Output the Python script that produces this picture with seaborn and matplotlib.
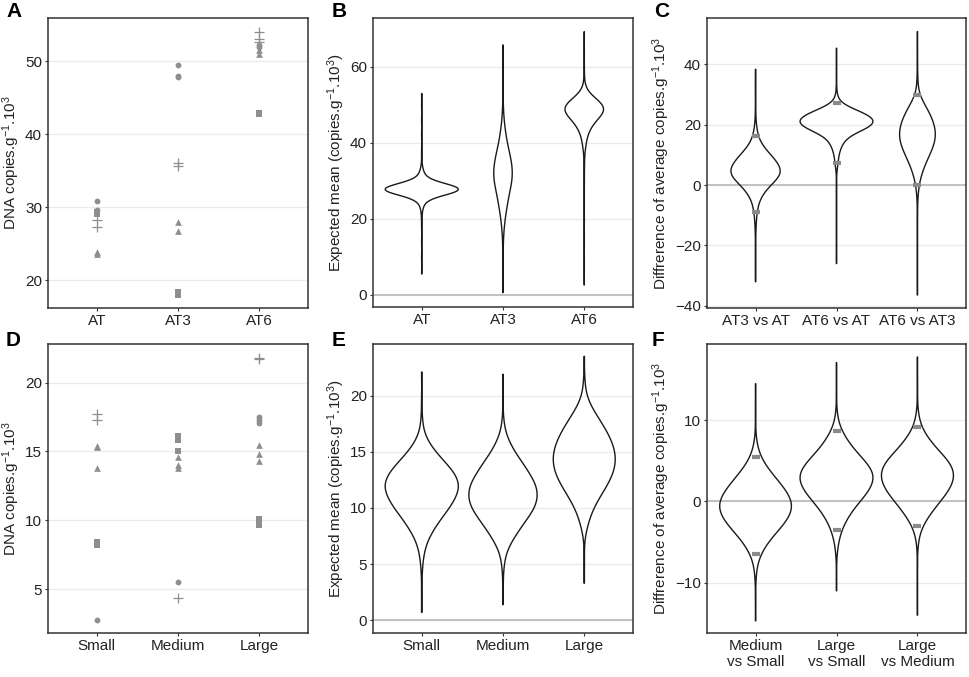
import numpy as np
import pandas as pd
import matplotlib
matplotlib.use("Agg")
import matplotlib.pyplot as plt
import seaborn as sns

# A: raw DNA copies per treatment, one list per point shape
a_cats = ["AT", "AT3", "AT6"]
a_circle_grp = ["AT", "AT", "AT3", "AT3", "AT3", "AT6", "AT6"]
a_circle_val = [30.8, 29.6, 49.4, 48.0, 47.8, 52.2, 51.9]
a_square_grp = ["AT", "AT", "AT3", "AT3", "AT6", "AT6"]
a_square_val = [29.4, 29.1, 18.4, 18.0, 42.9, 42.7]
a_tri_grp = ["AT", "AT", "AT3", "AT3", "AT6", "AT6"]
a_tri_val = [23.8, 23.6, 28.0, 26.8, 51.5, 51.0]
a_plus_grp = ["AT", "AT", "AT3", "AT3", "AT6", "AT6", "AT6"]
a_plus_val = [28.2, 27.3, 36.0, 35.7, 54.0, 53.0, 52.6]

# D: raw DNA copies per size class
d_cats = ["Small", "Medium", "Large"]
d_circle_grp = ["Small", "Medium", "Large", "Large", "Large"]
d_circle_val = [2.8, 5.5, 17.5, 17.3, 17.1]
d_square_grp = ["Small", "Small", "Medium", "Medium", "Medium", "Large", "Large", "Large"]
d_square_val = [8.4, 8.2, 16.1, 15.8, 15.0, 10.1, 9.9, 9.7]
d_tri_grp = ["Small", "Small", "Small", "Medium", "Medium", "Medium", "Large", "Large", "Large"]
d_tri_val = [15.4, 15.3, 13.8, 14.6, 14.0, 13.8, 15.5, 14.8, 14.3]
d_plus_grp = ["Small", "Small", "Medium", "Large", "Large"]
d_plus_val = [17.7, 17.3, 4.4, 21.8, 21.7]

# violins: value levels and how wide the violin is there
b_cats = ["AT", "AT3", "AT6"]
b_at_y = [5.5, 10, 14, 18, 20, 21, 22, 23, 24, 25, 26, 27, 28, 29, 30, 31, 32, 33, 34, 36, 38, 42, 46, 50, 53]
b_at_n = [1, 1, 1, 1, 1, 1, 2, 4, 8, 18, 48, 100, 120, 78, 33, 13, 7, 4, 2, 1, 1, 1, 1, 1, 1]
b_at3_y = [0.6, 4, 8, 11, 14, 16, 18, 20, 22, 24, 26, 28, 30, 32, 34, 36, 38, 40, 42, 44, 46, 48, 51, 55, 60, 65.8]
b_at3_n = [1, 1, 1, 1, 1, 2, 4, 6, 10, 14, 17, 23, 28, 30, 28, 24, 18, 13, 9, 6, 3, 2, 1, 1, 1, 1]
b_at6_y = [2.6, 8, 14, 20, 25, 29, 32, 34, 36, 38, 39, 40, 41, 42, 43, 44, 45, 46, 47, 48, 49, 50, 51, 52, 53, 54, 55, 57, 60, 64, 69.3]
b_at6_n = [1, 1, 1, 1, 1, 1, 1, 1, 2, 3, 4, 5, 7, 9, 13, 18, 24, 33, 45, 55, 60, 55, 42, 26, 13, 6, 3, 2, 1, 1, 1]

c_cats = ["AT3 vs AT", "AT6 vs AT", "AT6 vs AT3"]
c_1_y = [-32, -28, -24, -20, -16, -14, -12, -10, -8, -6, -4, -2, 0, 2, 4, 6, 8, 10, 12, 14, 16, 18, 20, 22, 25, 30, 34, 38.3]
c_1_n = [1, 1, 1, 1, 1, 1, 2, 3, 5, 8, 14, 24, 38, 55, 67, 62, 52, 38, 24, 13, 7, 4, 2, 1, 1, 1, 1, 1]
c_2_y = [-26, -20, -14, -8, -4, 0, 3, 5, 6, 7, 8, 9, 10, 11, 12, 13, 14, 15, 16, 17, 18, 19, 20, 21, 22, 23, 24, 25, 26, 27, 28, 29, 30, 32, 35, 38, 41, 45.3]
c_2_n = [1, 1, 1, 1, 1, 1, 1, 2, 3, 4, 5, 6, 7, 9, 12, 15, 20, 25, 35, 50, 70, 92, 106, 112, 106, 95, 75, 52, 32, 14, 7, 4, 3, 2, 1, 1, 1, 1]
c_3_y = [-36.4, -30, -24, -18, -12, -8, -4, -2, 0, 2, 4, 6, 8, 10, 12, 14, 16, 18, 20, 22, 24, 26, 28, 30, 32, 35, 38, 42, 46, 50.8]
c_3_n = [1, 1, 1, 1, 1, 1, 2, 3, 5, 9, 15, 21, 30, 39, 48, 55, 59, 58, 54, 47, 38, 27, 15, 6, 3, 2, 1, 1, 1, 1]
c_ci_grp = ["AT3 vs AT", "AT3 vs AT", "AT6 vs AT", "AT6 vs AT", "AT6 vs AT3", "AT6 vs AT3"]
c_ci_val = [16.2, -8.9, 27.3, 7.2, 29.8, 0.0]

e_cats = ["Small", "Medium", "Large"]
e_small_y = [0.7, 2.5, 4, 5, 6, 7, 8, 9, 10, 11, 12, 13, 14, 15, 16, 17, 18, 19.5, 22.1]
e_small_n = [1, 1, 1, 3, 7, 16, 33, 55, 80, 100, 110, 98, 70, 40, 17, 5, 2, 1, 1]
e_medium_y = [1.4, 3, 4, 5, 6, 7, 8, 9, 10, 11, 12, 13, 14, 15, 16, 17, 18, 20, 21.9]
e_medium_n = [1, 1, 1, 4, 10, 27, 50, 75, 100, 110, 105, 85, 62, 37, 18, 6, 2, 1, 1]
e_large_y = [3.3, 5, 6.5, 8, 9, 10, 11, 12, 13, 14, 15, 16, 17, 18, 19, 20, 21, 22, 23.5]
e_large_n = [1, 1, 1, 8, 18, 33, 55, 80, 100, 110, 108, 95, 75, 50, 25, 8, 3, 1, 1]

f_cats = ["Medium\nvs Small", "Large\nvs Small", "Large\nvs Medium"]
f_1_y = [-14.7, -12, -10, -9, -8, -7, -6, -5, -4, -3, -2, -1, 0, 1, 2, 3, 4, 5, 6, 7, 8, 10, 12, 14.5]
f_1_n = [1, 1, 1, 2, 5, 11, 22, 38, 58, 80, 98, 109, 108, 96, 78, 58, 38, 22, 11, 5, 2, 1, 1, 1]
f_2_y = [-11, -9, -7, -6, -5, -4, -3, -2, -1, 0, 1, 2, 3, 4, 5, 6, 7, 8, 9, 10, 11, 13, 15, 17.1]
f_2_n = [1, 1, 1, 3, 6, 12, 20, 33, 48, 68, 88, 103, 110, 102, 82, 60, 40, 25, 12, 5, 2, 1, 1, 1]
f_3_y = [-14, -11, -8, -6, -5, -4, -3, -2, -1, 0, 1, 2, 3, 4, 5, 6, 7, 8, 9, 10, 11, 13, 15, 17.8]
f_3_n = [1, 1, 1, 1, 3, 7, 16, 30, 47, 66, 85, 100, 107, 105, 90, 68, 46, 28, 14, 6, 3, 1, 1, 1]
f_ci_grp = ["Medium\nvs Small", "Medium\nvs Small", "Large\nvs Small", "Large\nvs Small",
            "Large\nvs Medium", "Large\nvs Medium"]
f_ci_val = [5.5, -6.5, 8.7, -3.5, 9.2, -3.0]

sns.set_style("white")
plt.rcParams["font.family"] = ["Liberation Sans", "DejaVu Sans"]
plt.rcParams["mathtext.fontset"] = "custom"
plt.rcParams["mathtext.rm"] = "Liberation Sans"
plt.rcParams["mathtext.it"] = "Liberation Sans:italic"
plt.rcParams["mathtext.default"] = "regular"

DARK = "#222222"
POINT = "#8e8e8e"

fig = plt.figure(figsize=(9.69, 6.77), dpi=100)
W, H = 969, 677


def add_ax(left, top, right, bottom):
    return fig.add_axes([left / W, 1 - bottom / H, (right - left) / W, (bottom - top) / H])


def style(ax, ylim, yticks, ylabel, zero=True):
    ax.set_xlim(-0.6, 2.6)
    ax.set_ylim(*ylim)
    ax.set_yticks(yticks)
    ax.set_xlabel("")
    ax.set_ylabel(ylabel, fontsize=11, color=DARK, labelpad=2.5)
    ax.yaxis.grid(True, color="#ebebeb", lw=1)
    ax.xaxis.grid(False)
    ax.set_axisbelow(True)
    if zero:
        ax.axhline(0, color="#bdbdbd", lw=1.3, zorder=0.8)
    for s in ax.spines.values():
        s.set_color("#333333")
        s.set_linewidth(1.1)
    ax.tick_params(axis="both", direction="out", length=2.5, width=0.8, pad=1.8,
                   color="#333333", labelsize=11, labelcolor=DARK, left=True, bottom=True)


def points(ax, cats, grp, val, marker, size, lw=0):
    sns.stripplot(x=grp, y=val, order=cats, jitter=False, marker=marker, size=size,
                  color=POINT, edgecolor=POINT, linewidth=lw, ax=ax, zorder=3)


def violins(ax, cats, ys, ns):
    frames = []
    for cat, y, n in zip(cats, ys, ns):
        vals = np.repeat(y, n)
        frames.append(pd.DataFrame({"group": cat, "value": vals}))
    df = pd.concat(frames, ignore_index=True)
    sns.violinplot(data=df, x="group", y="value", order=cats, ax=ax, fill=False,
                   color="#1a1a1a", inner=None, cut=0, density_norm="area",
                   bw_method=0.28, gridsize=600, width=0.9, linewidth=1.0)


def ci_marks(ax, cats, grp, val):
    sns.stripplot(x=grp, y=val, order=cats, jitter=False, marker="_", size=6,
                  color="#8a8a8a", edgecolor="#8a8a8a", linewidth=3, ax=ax, zorder=4)


lab_dna = "DNA copies.g$^{-1}$.10$^{3}$"
lab_exp = "Expected mean (copies.g$^{-1}$.10$^{3}$)"
lab_dif = "Diffrerence of average copies.g$^{-1}$.10$^{3}$"

# A
ax = add_ax(48, 18, 308, 308)
points(ax, a_cats, a_circle_grp, a_circle_val, "o", 4.2)
points(ax, a_cats, a_square_grp, a_square_val, "s", 4.0)
points(ax, a_cats, a_tri_grp, a_tri_val, "^", 4.8)
points(ax, a_cats, a_plus_grp, a_plus_val, "+", 7, lw=0.9)
style(ax, (16.2, 55.9), [20, 30, 40, 50], lab_dna, zero=False)

# B
ax = add_ax(373, 18, 633, 307)
violins(ax, b_cats, [b_at_y, b_at3_y, b_at6_y], [b_at_n, b_at3_n, b_at6_n])
style(ax, (-3.2, 72.9), [0, 20, 40, 60], lab_exp)

# C
ax = add_ax(707, 18, 966, 308)
violins(ax, c_cats, [c_1_y, c_2_y, c_3_y], [c_1_n, c_2_n, c_3_n])
ci_marks(ax, c_cats, c_ci_grp, c_ci_val)
style(ax, (-40.7, 55.3), [-40, -20, 0, 20, 40], lab_dif)

# D
ax = add_ax(48, 344, 308, 633)
points(ax, d_cats, d_circle_grp, d_circle_val, "o", 4.2)
points(ax, d_cats, d_square_grp, d_square_val, "s", 4.0)
points(ax, d_cats, d_tri_grp, d_tri_val, "^", 4.8)
points(ax, d_cats, d_plus_grp, d_plus_val, "+", 7, lw=0.9)
style(ax, (1.83, 22.8), [5, 10, 15, 20], lab_dna, zero=False)

# E
ax = add_ax(373, 344, 633, 633)
violins(ax, e_cats, [e_small_y, e_medium_y, e_large_y], [e_small_n, e_medium_n, e_large_n])
style(ax, (-1.13, 24.6), [0, 5, 10, 15, 20], lab_exp)

# F
ax = add_ax(707, 344, 966, 633)
violins(ax, f_cats, [f_1_y, f_2_y, f_3_y], [f_1_n, f_2_n, f_3_n])
ci_marks(ax, f_cats, f_ci_grp, f_ci_val)
style(ax, (-16.2, 19.4), [-10, 0, 10], lab_dif)

for letter, x, y in [("A", 6, 2), ("B", 332, 2), ("C", 654, 2),
                     ("D", 6, 331), ("E", 332, 331), ("F", 652, 331)]:
    fig.text(x / W, 1 - y / H, letter, fontsize=15, fontweight="bold", color="black",
             ha="left", va="top")

fig.savefig("out.png", dpi=100)
